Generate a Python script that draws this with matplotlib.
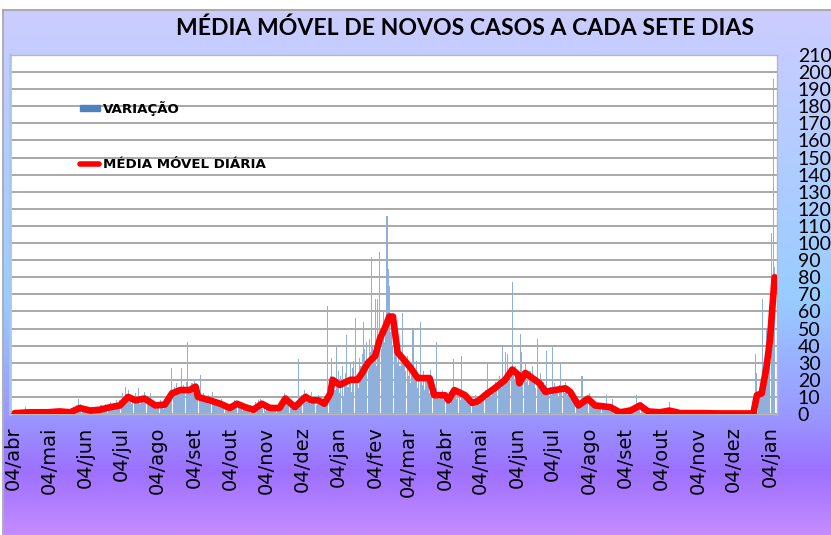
import matplotlib
matplotlib.use("Agg")
import matplotlib.pyplot as plt
import matplotlib.dates as mdates
from matplotlib.colors import LinearSegmentedColormap
from matplotlib.lines import Line2D
from matplotlib.patches import Rectangle
import numpy as np
import pandas as pd

# novos casos diarios (barras), um mes por lista, a partir de 01/04/2020
abr20 = [0, 0, 1, 0, 0, 1, 0, 2, 0, 1, 0, 0, 3, 4, 0, 1, 2, 0, 0, 1, 0, 1, 0, 2, 1, 0, 1, 0, 3, 1]
mai20 = [1, 2, 0, 1, 0, 2, 1, 0, 1, 3, 0, 1, 2, 1, 0, 2, 1, 0, 1, 2, 0, 1, 3, 2, 4, 3, 5, 2, 9, 3, 6]
jun20 = [3, 2, 1, 2, 4, 1, 2, 3, 1, 2, 3, 4, 2, 1, 3, 2, 5, 3, 2, 4, 6, 3, 5, 4, 7, 3, 5, 6, 4, 8]
jul20 = [6, 4, 8, 5, 12, 7, 9, 16, 11, 14, 10, 8, 6, 9, 7, 12, 8, 10, 15, 6, 9, 11, 7, 13, 8, 10, 6, 9, 12, 7, 5]
ago20 = [4, 7, 3, 6, 5, 8, 4, 6, 3, 7, 5, 9, 6, 10, 14, 27, 12, 16, 11, 18, 13, 15, 12, 27, 14, 17, 12, 19, 42, 13, 15]
set20 = [14, 18, 12, 20, 16, 11, 9, 14, 23, 10, 8, 12, 7, 10, 9, 11, 6, 8, 13, 7, 9, 6, 8, 5, 7, 6, 9, 4, 7, 5]
out20 = [3, 5, 2, 6, 4, 3, 5, 8, 6, 4, 7, 5, 3, 4, 2, 6, 3, 4, 2, 3, 1, 4, 2, 3, 5, 7, 4, 8, 6, 9, 5]
nov20 = [3, 4, 2, 5, 3, 4, 2, 3, 5, 4, 3, 2, 4, 3, 5, 6, 8, 10, 12, 9, 11, 8, 6, 4, 3, 5, 4, 2, 5, 4]
dez20 = [32, 9, 6, 11, 8, 14, 10, 12, 7, 9, 6, 13, 8, 10, 7, 5, 9, 11, 6, 8, 5, 7, 4, 6, 9, 63, 15, 22, 33, 14, 20]
jan21 = [14, 39, 18, 25, 12, 22, 28, 10, 19, 24, 46, 16, 21, 30, 13, 27, 31, 56, 20, 22, 15, 33, 28, 35, 54, 38, 30, 42, 25, 44, 36]
fev21 = [92, 40, 35, 67, 28, 67, 45, 95, 38, 50, 61, 42, 55, 116, 85, 75, 48, 52, 40, 44, 35, 38, 30, 42, 28, 36, 59, 30]
mar21 = [30, 25, 34, 22, 28, 18, 26, 49, 20, 24, 31, 15, 22, 54, 19, 17, 25, 14, 21, 23, 18, 12, 26, 16, 20, 10, 15, 42, 13, 9, 12]
abr21 = [10, 14, 8, 12, 7, 11, 9, 13, 6, 10, 32, 15, 12, 9, 14, 11, 8, 34, 10, 13, 9, 12, 7, 10, 5, 8, 6, 9, 7, 11]
mai21 = [6, 9, 5, 8, 11, 7, 10, 14, 9, 30, 12, 15, 10, 13, 17, 12, 19, 14, 16, 22, 18, 15, 40, 20, 36, 24, 35, 19, 27, 22, 77]
jun21 = [25, 20, 28, 18, 24, 22, 47, 36, 21, 26, 30, 19, 23, 17, 25, 20, 28, 18, 22, 15, 44, 20, 16, 24, 14, 19, 12, 17, 37, 15]
jul21 = [12, 16, 11, 39, 14, 18, 13, 15, 10, 17, 30, 13, 16, 12, 19, 14, 11, 15, 9, 13, 8, 10, 6, 9, 5, 7, 4, 6, 22, 5, 8]
ago21 = [7, 10, 8, 12, 6, 9, 5, 7, 4, 6, 5, 3, 6, 4, 5, 3, 4, 6, 11, 3, 5, 2, 4, 9, 3, 2, 1, 3, 2, 1, 2]
set21 = [1, 2, 3, 1, 2, 4, 2, 3, 1, 3, 2, 5, 11, 4, 6, 5, 7, 4, 6, 3, 2, 4, 1, 2, 1, 3, 1, 2, 1, 2]
out21 = [1, 2, 0, 1, 1, 3, 1, 2, 0, 1, 7, 2, 1, 3, 1, 0, 2, 1, 0, 1, 0, 1, 0, 2, 0, 1, 0, 0, 1, 0, 1]
nov21 = [0, 1, 0, 0, 1, 0, 0, 1, 0, 0, 0, 1, 0, 0, 0, 1, 0, 0, 0, 0, 1, 0, 0, 0, 1, 0, 0, 0, 0, 1]
dez21 = [0, 0, 0, 0, 1, 0, 0, 0, 0, 1, 0, 0, 0, 0, 0, 1, 0, 0, 0, 0, 0, 2, 35, 24, 8, 12, 10, 15, 67, 22, 30]
jan22 = [50, 45, 38, 60, 106, 70, 196, 86]

# media movel de 7 dias (linha vermelha)
media_datas = [
    "2020-04-05", "2020-04-18", "2020-05-03", "2020-05-13", "2020-05-22", "2020-05-30",
    "2020-06-08", "2020-06-16", "2020-06-25", "2020-07-03", "2020-07-10", "2020-07-16",
    "2020-07-24", "2020-08-02", "2020-08-10", "2020-08-16", "2020-08-23", "2020-08-31",
    "2020-09-05", "2020-09-07", "2020-09-17", "2020-09-26", "2020-10-04", "2020-10-10",
    "2020-10-17", "2020-10-24", "2020-10-31", "2020-11-07", "2020-11-15", "2020-11-20",
    "2020-11-28", "2020-12-07", "2020-12-12", "2020-12-18", "2020-12-23", "2020-12-28",
    "2020-12-30", "2021-01-05", "2021-01-14", "2021-01-20", "2021-01-24", "2021-01-29",
    "2021-02-04", "2021-02-08", "2021-02-12", "2021-02-16", "2021-02-19", "2021-02-23",
    "2021-02-28", "2021-03-07", "2021-03-12", "2021-03-22", "2021-03-26", "2021-04-04",
    "2021-04-07", "2021-04-12", "2021-04-21", "2021-04-27", "2021-05-02", "2021-05-08",
    "2021-05-16", "2021-05-25", "2021-05-31", "2021-06-05", "2021-06-06", "2021-06-11",
    "2021-06-17", "2021-06-23", "2021-06-28", "2021-07-06", "2021-07-15", "2021-07-19",
    "2021-07-26", "2021-08-03", "2021-08-09", "2021-08-22", "2021-08-30", "2021-09-08",
    "2021-09-16", "2021-09-23", "2021-10-03", "2021-10-11", "2021-10-20", "2021-11-06",
    "2021-11-23", "2021-12-21", "2021-12-24", "2021-12-28", "2022-01-01", "2022-01-04",
    "2022-01-08",
]
media_valores = [
    0.5, 1, 1, 1.5, 1, 3.5,
    2, 2.5, 4, 5, 10, 8,
    9, 5, 5.5, 12, 14, 14,
    16, 10, 8, 6, 3.5, 6,
    4, 2.5, 6, 3.5, 3.5, 9,
    4, 10, 8, 8, 6, 12,
    20, 17, 20, 20, 24, 30,
    34, 44, 50, 57, 57, 36,
    32, 26, 21, 21, 11, 11,
    8, 14, 11, 6.5, 7.5, 11,
    15, 20, 26, 23, 18, 24,
    21, 18, 13, 14, 15, 13,
    5, 9, 5, 4, 1, 2,
    5, 1.5, 1, 2, 0.5, 0.5,
    0.3, 0.3, 11, 12, 27, 43,
    80,
]

meses = ["abr", "mai", "jun", "jul", "ago", "set", "out", "nov", "dez", "jan", "fev",
         "mar", "abr", "mai", "jun", "jul", "ago", "set", "out", "nov", "dez", "jan"]

variacao = (abr20 + mai20 + jun20 + jul20 + ago20 + set20 + out20 + nov20 + dez20
            + jan21 + fev21 + mar21 + abr21 + mai21 + jun21 + jul21 + ago21 + set21
            + out21 + nov21 + dez21 + jan22)
dias = pd.date_range("2020-04-01", periods=len(variacao), freq="D")
datas_media = pd.to_datetime(media_datas)
ticks = pd.date_range("2020-04-04", periods=len(meses), freq=pd.DateOffset(months=1))

W, H = 831, 535
fig = plt.figure(figsize=(W / 100, H / 100), dpi=100)

# fundo em degrade
bg = fig.add_axes([4 / W, 0, 1 - 4 / W, 1 - 10 / H])
cmap = LinearSegmentedColormap.from_list(
    "fundo", [(0.0, "#ccccff"), (0.55, "#99ccff"), (0.77, "#9999ff"),
              (0.88, "#9d70ff"), (1.0, "#c48cff")])
bg.imshow(np.linspace(0, 1, 256).reshape(-1, 1), aspect="auto", cmap=cmap,
          extent=[0, 1, 0, 1])
bg.set_axis_off()
fig.add_artist(Line2D([3.5 / W, 3.5 / W], [0, 1 - 10 / H], color="#a0a0a0", lw=1.2))
fig.add_artist(Line2D([3.5 / W, 1], [1 - 10 / H, 1 - 10 / H], color="#a0a0a0", lw=1.2))

ax = fig.add_axes([10 / W, (H - 414) / H, 767 / W, (414 - 55) / H])
ax.set_facecolor("white")
ax.bar(dias, variacao, width=0.9, color="#8fb0da", linewidth=0, zorder=2)
ax.plot(datas_media, media_valores, color="#ff0000", lw=4.8, solid_capstyle="round",
        solid_joinstyle="round", zorder=3)

ax.set_ylim(0, 210)
ax.set_xlim(pd.Timestamp("2020-04-01"), pd.Timestamp("2022-01-10"))
ax.set_yticks(range(0, 211, 10))
ax.yaxis.tick_right()
ax.tick_params(axis="y", length=0, pad=15, labelsize=14)
for lab in ax.get_yticklabels():
    lab.set_fontfamily("Lato")
ax.grid(axis="y", color="#999999", lw=1.2, zorder=1)
ax.set_xticks(ticks)
ax.set_xticklabels(["04/" + m for m in meses], rotation=90, fontsize=14)
ax.tick_params(axis="x", length=0, pad=9)
for s in ax.spines.values():
    s.set_color("#b8b8b8")
    s.set_linewidth(1.0)
ax.spines["left"].set_color("#a8c8e8")
ax.spines["left"].set_linewidth(2)

fig.text(465 / W, 1 - 28 / H, "MÉDIA MÓVEL DE NOVOS CASOS A CADA SETE DIAS",
         ha="center", va="center", fontsize=16.6, fontweight="bold", family="Lato")

# legenda
fig.add_artist(Rectangle((80 / W, 1 - 111 / H), 20 / W, 6 / H, color="#4f81bd"))
fig.text(103 / W, 1 - 108 / H, "VARIAÇÃO", ha="left", va="center", fontsize=9.6,
         fontweight="bold")
fig.add_artist(Line2D([80 / W, 99 / W], [1 - 164 / H, 1 - 164 / H], color="#ff0000",
                      lw=4, solid_capstyle="round"))
fig.text(103 / W, 1 - 164 / H, "MÉDIA MÓVEL DIÁRIA", ha="left", va="center", fontsize=9.6,
         fontweight="bold")

fig.savefig("out.png", dpi=100)
